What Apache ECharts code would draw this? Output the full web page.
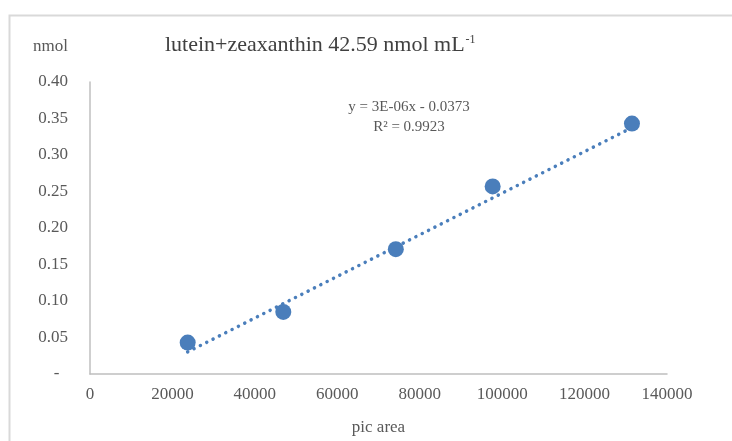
<!DOCTYPE html>
<html>
<head>
<meta charset="utf-8">
<script src="https://cdn.jsdelivr.net/npm/echarts@6/dist/echarts.min.js"></script>
<style>
  html, body { margin: 0; padding: 0; background: #fff; }
  #chart { width: 732px; height: 441px; }
</style>
</head>
<body>
<div id="chart"></div>
<script>
// peak area vs nmol
const picArea = [23700, 46900, 74200, 97700, 131500];
const nmol = [0.043, 0.085, 0.171, 0.257, 0.343];
// trendline as printed in the chart (slope/intercept of the fit)
const slope = 2.85e-6;
const intercept = -0.0373;
const xTicks = [0, 20000, 40000, 60000, 80000, 100000, 120000, 140000];
const yTicks = [0, 0.05, 0.1, 0.15, 0.2, 0.25, 0.3, 0.35, 0.4];

const xMin = Math.min(...picArea);
const xMax = Math.max(...picArea);
const trend = [xMin, xMax].map(x => [x, slope * x + intercept]);

const font = "'Liberation Serif', 'Times New Roman', serif";
const blue = "#4a7ebb";
const grey = "#595959";

const chart = echarts.init(document.getElementById("chart"));
chart.setOption({
  animation: false,
  textStyle: { fontFamily: font },
  grid: { left: 90, right: 65, top: 82, bottom: 66 },
  graphic: [
    {
      type: "rect",
      left: 7, top: 13,
      shape: { width: 760, height: 460 },
      style: { fill: null, stroke: "#d9d9d9", lineWidth: 2 },
      silent: true
    },
    {
      type: "text",
      left: 165, top: 34,
      style: {
        text: "{t|lutein+zeaxanthin 42.59 nmol mL}{s|-1}",
        rich: {
          t: { fontFamily: font, fontSize: 22, fill: "#404040" },
          s: { fontFamily: font, fontSize: 12, fill: "#404040", verticalAlign: "top", padding: [0, 0, 10, 1] }
        }
      }
    },
    {
      type: "text",
      left: 33, top: 38,
      style: { text: "nmol", fontFamily: font, fontSize: 17, fill: grey }
    },
    {
      type: "text",
      x: 409, y: 97,
      style: {
        text: "y = 3E-06x - 0.0373\nR² = 0.9923",
        fontFamily: font, fontSize: 15, fill: grey,
        align: "center", lineHeight: 20
      }
    }
  ],
  xAxis: {
    type: "value",
    min: 0, max: 140000, interval: 20000,
    name: "pic area",
    nameLocation: "middle",
    nameGap: 45,
    nameTextStyle: { fontFamily: font, fontSize: 17, color: grey },
    axisLine: { show: true, lineStyle: { color: "#bfbfbf", width: 1.5 } },
    axisTick: { show: false },
    splitLine: { show: false },
    axisLabel: {
      fontFamily: font, fontSize: 17, color: grey, margin: 12,
      formatter: v => {
        const t = xTicks.find(k => k === v);
        return t === undefined ? "" : String(t);
      }
    }
  },
  yAxis: {
    type: "value",
    min: 0, max: 0.4, interval: 0.05,
    axisLine: { show: true, lineStyle: { color: "#bfbfbf", width: 1.5 } },
    axisTick: { show: false },
    splitLine: { show: false },
    axisLabel: {
      fontFamily: font, fontSize: 17, color: grey, margin: 22,
      formatter: v => {
        const t = yTicks.find(k => Math.abs(k - v) < 1e-9);
        if (t === undefined) return "";
        return t === 0 ? "-  " : t.toFixed(2);
      }
    }
  },
  series: [
    {
      type: "line",
      data: trend,
      symbol: "none",
      z: 1,
      lineStyle: { color: blue, width: 3.5, type: [0.1, 7], cap: "round" }
    },
    {
      type: "scatter",
      data: picArea.map((x, i) => [x, nmol[i]]),
      symbolSize: 16,
      z: 2,
      itemStyle: { color: blue, opacity: 1 }
    }
  ]
});
</script>
</body>
</html>
